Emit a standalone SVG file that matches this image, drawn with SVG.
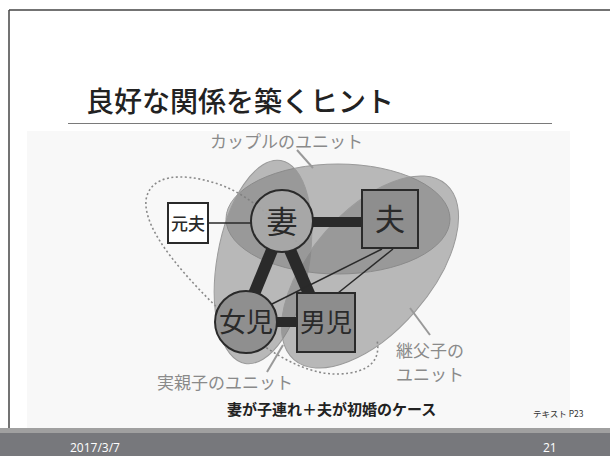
<svg xmlns="http://www.w3.org/2000/svg" width="610" height="456" viewBox="0 0 610 456">
<style>
.jp{font-family:"Noto Sans CJK JP","Noto Sans",sans-serif}
.lbl{font-size:17px;fill:#8a8a8a}
.node-t{fill:#2a2a2a;text-anchor:middle}
.unit{fill:#7c7c7c;fill-opacity:0.52;stroke:#9a9a9a;stroke-width:1}
.ptr{stroke:#999;stroke-width:2;fill:none}
.thick{stroke:#2a2a2a;fill:none}
.thin{stroke:#2a2a2a;stroke-width:1.5;fill:none}
.nd{stroke:#2a2a2a;stroke-width:2}
</style>
<rect width="610" height="456" fill="#fff"/>
<rect x="27" y="131" width="543" height="297" fill="#f8f8f8"/>
<line x1="9" y1="10" x2="610" y2="10" stroke="#444" stroke-width="1.5"/>
<line x1="9" y1="10" x2="9" y2="432" stroke="#444" stroke-width="1.5"/>
<text class="jp" x="86" y="112" font-size="28" font-weight="500" fill="#222">良好な関係を築くヒント</text>
<line x1="68" y1="123.5" x2="552" y2="123.5" stroke="#7a7a7a" stroke-width="1"/>

<g id="dotted-loop">
<path d="M300,245 C270,215 245,192 215,183 C180,172 150,175 146,200 C143,232 188,280 230,320 C260,345 300,375 338,374 C370,373 381,360 377,340" fill="none" stroke="#8a8a8a" stroke-width="1.6" stroke-dasharray="2 2.5"/>
</g>
<g id="units">
<ellipse id="couple-unit" class="unit" cx="338" cy="219" rx="112" ry="55"/>
<ellipse id="bio-unit" class="unit" cx="263" cy="262" rx="103" ry="46" transform="rotate(100 263 262)"/>
<ellipse id="step-unit" class="unit" cx="370" cy="272" rx="116" ry="60" transform="rotate(131 370 272)"/>
</g>

<g id="connectors">
<line class="thin" x1="208" y1="223" x2="252" y2="223" stroke-width="2"/>
<line class="thick" x1="312" y1="222" x2="363" y2="222" stroke-width="10"/>
<line class="thick" x1="272" y1="250" x2="254" y2="294" stroke-width="12"/>
<line class="thick" x1="290" y1="250" x2="310" y2="296" stroke-width="12"/>
<line class="thick" x1="276" y1="322" x2="298" y2="322" stroke-width="10"/>
<line class="thin" x1="382" y1="249" x2="272" y2="304"/>
<line class="thin" x1="393" y1="249" x2="338" y2="293"/>
<line class="ptr" x1="297" y1="150" x2="313" y2="168"/>
<line class="ptr" x1="267" y1="372" x2="283" y2="345"/>
<line class="ptr" x1="430" y1="335" x2="410" y2="308"/>
</g>

<g id="node-motoott">
<rect class="nd" x="168" y="203" width="40" height="40" fill="#fff"/>
<text class="jp node-t" x="188" y="230" font-size="17" font-weight="500">元夫</text>
</g>
<g id="node-tsuma">
<circle class="nd" cx="282" cy="221" r="31" fill="#a9a9a9" fill-opacity="0.85"/>
<text class="jp node-t" x="282" y="233" font-size="31">妻</text>
</g>
<g id="node-otto">
<rect class="nd" x="362" y="190" width="56" height="58" fill="#8e8e8e"/>
<text class="jp node-t" x="390" y="230" font-size="30">夫</text>
</g>
<g id="node-joji">
<circle class="nd" cx="246" cy="322" r="31" fill="#8f8f8f"/>
<text class="jp node-t" x="246" y="332" font-size="27">女児</text>
</g>
<g id="node-danji">
<rect class="nd" x="297" y="293" width="58" height="59" fill="#8d8d8d"/>
<text class="jp node-t" x="326" y="332" font-size="26">男児</text>
</g>

<text class="jp lbl" x="210" y="148">カップルのユニット</text>
<text class="jp lbl" x="157" y="389">実親子のユニット</text>
<text class="jp lbl" x="396" y="357" font-size="15.5">継父子の</text>
<text class="jp lbl" x="396" y="381" font-size="15.5">ユニット</text>
<text class="jp" x="227" y="415" font-size="15" font-weight="bold" fill="#222">妻が子連れ＋夫が初婚のケース</text>
<text class="jp" x="533" y="417" font-size="8.5" fill="#333">テキスト P23</text>

<rect x="0" y="428" width="610" height="5" fill="#a0a0a0"/>
<rect x="0" y="433" width="610" height="23" fill="#77787c"/>
<text x="70" y="452" font-family="'Open Sans','Liberation Sans',sans-serif" font-size="12" fill="#fff">2017/3/7</text>
<text x="543" y="452" font-family="'Open Sans','Liberation Sans',sans-serif" font-size="12" fill="#fff">21</text>
</svg>
